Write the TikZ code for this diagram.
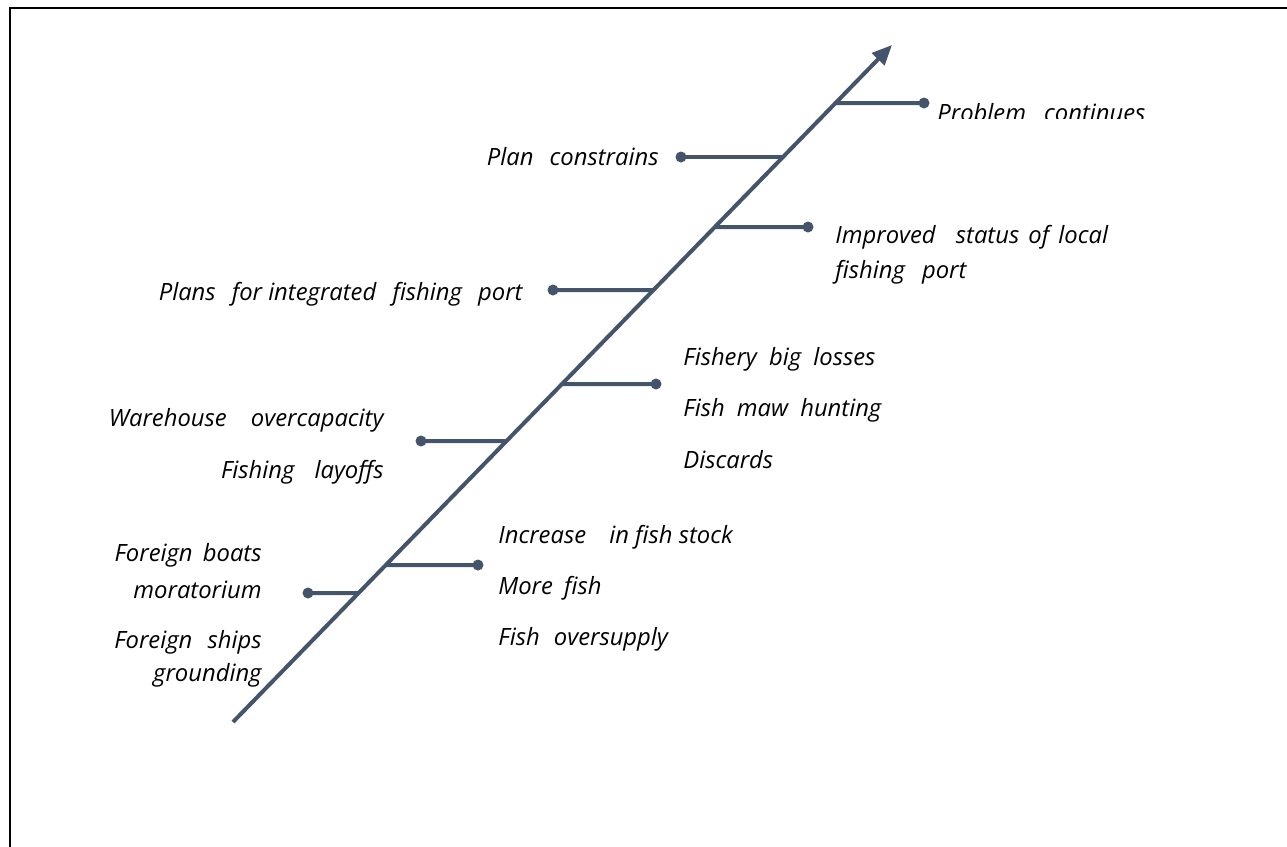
\documentclass[tikz,border=0pt]{standalone}
\usepackage{fontspec}
\setmainfont{Open Sans}
\usetikzlibrary{arrows.meta,calc}
\definecolor{spine}{HTML}{44546A}
\newcommand{\wgap}[1]{\hspace{#1pt}}
\begin{document}
\begin{tikzpicture}[x=0.5pt,y=-0.5pt,
  bone/.style={draw=spine, line width=2pt},
  dotnode/.style={circle, fill=spine, inner sep=0pt, minimum size=5.5pt},
  lbl/.style={font=\itshape\fontsize{11.9}{14}\selectfont, inner sep=0pt, text=black}]
\useasboundingbox (0,0) rectangle (1287,847);
\draw[line width=1.25pt] (10,847) -- (10,8) -- (1287,8);
\coordinate (S) at (233,722);
\coordinate (E) at (892,45);
\draw[bone, -{Triangle[length=10pt,width=8.5pt]}] (S) -- (E);
\foreach \n/\yy/\dx in {1/593/308, 2/565/478, 3/441/421, 4/384/656, 5/290/553, 6/227/808, 7/157/681, 8/103/924} {
  \coordinate (p\n) at ($(S)!{(722-\yy)/677}!(E)$);
  \node[dotnode] (d\n) at (\dx,\yy) {};
  \draw[bone] (p\n) -- (d\n.center);
}
% left labels
\node[lbl, anchor=base east] (a1) at (262,561) {Foreign\wgap{2} boats};
\node[lbl, anchor=base east] (a2) at (262,598) {moratorium};
\node[lbl, anchor=base east] (a3) at (262,648) {Foreign\wgap{4.5} ships};
\node[lbl, anchor=base east] (a4) at (262,681) {grounding};
\node[lbl, anchor=base east] (c1) at (384,426) {Warehouse\wgap{9} overcapacity};
\node[lbl, anchor=base east] (c2) at (384,478) {Fishing\wgap{7} layoffs};
\node[lbl, anchor=base east] (e1) at (523,300) {Plans\wgap{5} for integrated\wgap{5} fishing\wgap{5} port};
\node[lbl, anchor=base east] (g1) at (659,165) {Plan\wgap{5} constrains};
% right labels
\node[lbl, anchor=base west] (b1) at (498,543) {Increase\wgap{8.5} in fish stock};
\node[lbl, anchor=base west] (b2) at (498,594) {More\wgap{2.5} fish};
\node[lbl, anchor=base west] (b3) at (498,645) {Fish\wgap{4} oversupply};
\node[lbl, anchor=base west] (f1) at (683,365) {Fishery\wgap{3} big\wgap{3} losses};
\node[lbl, anchor=base west] (f2) at (683,416) {Fish\wgap{3} maw\wgap{3} hunting};
\node[lbl, anchor=base west] (f3) at (683,468) {Discards};
\node[lbl, anchor=base west] (h1) at (835,243) {Improved\wgap{7} status\wgap{1.5} of\wgap{1.5} local};
\node[lbl, anchor=base west] (h2) at (835,278) {fishing\wgap{5.5} port};
\begin{scope}
  \clip (930,80) rectangle (1230,118);
  \node[lbl, anchor=base west] (k1) at (937,121) {Problem\wgap{6} continues};
\end{scope}
\end{tikzpicture}
\end{document}
